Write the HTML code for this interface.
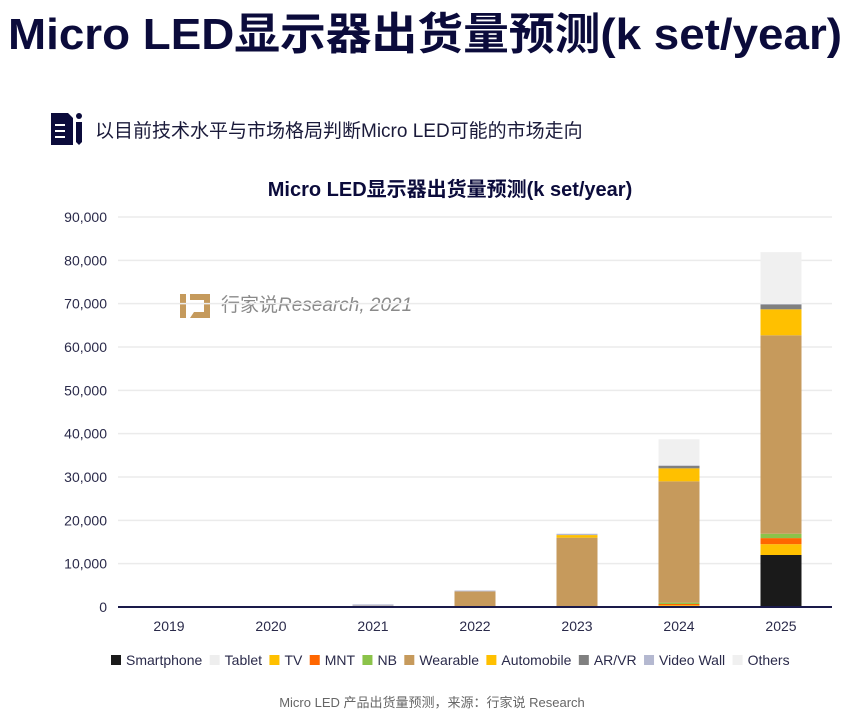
<!DOCTYPE html>
<html><head><meta charset="utf-8"><style>
html,body{margin:0;padding:0;background:#fff;}
svg{display:block;font-family:"Liberation Sans","Noto Sans CJK SC",sans-serif;}
</style></head><body>
<svg id="chart" width="858" height="718" viewBox="0 0 858 718" xmlns="http://www.w3.org/2000/svg">
<text x="8" y="49" font-size="44" font-weight="bold" fill="#0b0b3b" textLength="834" lengthAdjust="spacingAndGlyphs">Micro LED显示器出货量预测(k set/year)</text>
<g>
<path d="M51 113 h17 l5 5 v27 h-22 z" fill="#0b0b3b"/>
<rect x="55" y="124" width="10" height="2" fill="#fff"/><rect x="55" y="130" width="10" height="2" fill="#fff"/><rect x="55" y="136" width="10" height="2" fill="#fff"/>
<circle cx="79" cy="116" r="3" fill="#0b0b3b"/><path d="M76 122 h6 v20 l-3 3 l-3 -3 z" fill="#0b0b3b"/>
</g>
<text x="95" y="137" font-size="19" fill="#1a1a3a">以目前技术水平与市场格局判断Micro LED可能的市场走向</text>
<text x="450" y="196" font-size="20" font-weight="bold" fill="#0b0b3b" text-anchor="middle">Micro LED显示器出货量预测(k set/year)</text>
<g>
<path d="M180 294 h6 v24 l-6 0 z M190 294 h20 v24 h-20 l4 -6 h10 v-12 h-14 z" fill="#c59a5c"/>
<text x="221" y="311" font-size="19" fill="#8a8a8a">行家说<tspan font-style="italic">Research, 2021</tspan></text>
</g>
<g id="grid"></g><g id="bars"></g><g id="axes"></g><g id="legend"></g>
<text x="432" y="707" font-size="13" fill="#666" text-anchor="middle">Micro LED 产品出货量预测，来源：行家说 Research</text>
</svg>
<script>
const categories=["2019","2020","2021","2022","2023","2024","2025"];
const seriesNames=["Smartphone","Tablet","TV","MNT","NB","Wearable","Automobile","AR/VR","Video Wall","Others"];
const seriesColors=["#1a1a1a","#eeeeee","#ffc000","#ff6600","#8bc34a","#c69a5c","#ffc000","#808080","#b4b8d0","#f0f0f0"];
const smartphone=[0,0,0,0,0,0,12000];
const tablet=[0,0,0,0,0,0,0];
const tv=[0,0,0,0,0,400,2500];
const mnt=[0,0,0,0,0,300,1400];
const nb=[0,0,0,0,0,300,1000];
const wearable=[0,0,300,3600,16000,28000,45800];
const automobile=[0,0,0,0,600,3000,6000];
const arvr=[0,0,0,0,0,600,1100];
const videoWall=[0,0,300,200,300,100,100];
const others=[0,0,0,0,0,6000,12000];
const yTicks=[0,10000,20000,30000,40000,50000,60000,70000,80000,90000];
const series=[smartphone,tablet,tv,mnt,nb,wearable,automobile,arvr,videoWall,others];
const NS="http://www.w3.org/2000/svg";
const x0=118,x1=832,y0=607,yTop=217,yMax=90000;
const band=(x1-x0)/categories.length,barW=41;
const y=v=>y0-(v/yMax)*(y0-yTop);
const xc=i=>x0+band*(i+0.5);
function mk(t,a,p){const e=document.createElementNS(NS,t);for(const k in a)e.setAttribute(k,a[k]);p.appendChild(e);return e;}
const grid=document.getElementById('grid'),bars=document.getElementById('bars'),axes=document.getElementById('axes'),legend=document.getElementById('legend');
yTicks.forEach(t=>{
 if(t>0){const l=mk('line',{x1:x0,x2:x1,y1:y(t),y2:y(t),stroke:'#ebebeb','stroke-width':1.5},grid);
 
 }
 const tx=mk('text',{x:107,y:y(t)+5,'font-size':14,fill:'#2a2a4a','text-anchor':'end'},axes);
 tx.textContent=t.toLocaleString('en-US');
 
 
});
categories.forEach((c,i)=>{
 let acc=0;
 series.forEach((s,k)=>{
  const v=s[i]; if(v<=0)return;
  const r=mk('rect',{x:xc(i)-barW/2,y:y(acc+v),width:barW,height:y(acc)-y(acc+v),fill:seriesColors[k]},bars);
  
  
  acc+=v;
 });
 const tx=mk('text',{x:xc(i),y:631,'font-size':14,fill:'#2a2a4a','text-anchor':'middle'},axes);
 tx.textContent=c;
 
 
});
const ax=mk('line',{x1:x0,x2:x1,y1:y0,y2:y0,stroke:'#1a1a4a','stroke-width':2},axes);


let lx=111;
seriesNames.forEach((n,k)=>{
 const g=mk('g',{},legend);
 
 
 mk('rect',{x:lx,y:655,width:10,height:10,fill:seriesColors[k]},g);
 const t=mk('text',{x:lx+15,y:665,'font-size':14,fill:'#2a2a4a'},g);
 t.textContent=n;
 lx+=15+t.getComputedTextLength()+7.4;
});
</script>
</body></html>
